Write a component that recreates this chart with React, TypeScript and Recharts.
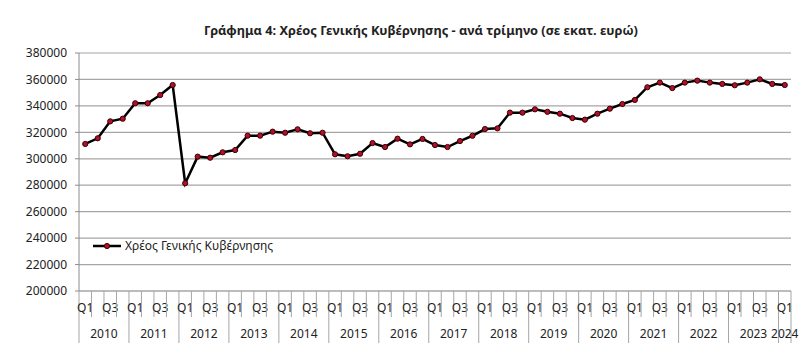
import { LineChart, Line, XAxis, YAxis, CartesianGrid } from 'recharts';

const years = ['2010', '2011', '2012', '2013', '2014', '2015', '2016', '2017', '2018', '2019', '2020', '2021', '2022', '2023', '2024'];
const quarters = ['Q1', 'Q2', 'Q3', 'Q4'];
const shownQuarters = ['Q1', 'Q3'];

const debt = [
  311200, 315500, 328300, 330300,
  342000, 342000, 348200, 355800,
  281500, 301600, 300800, 304900,
  306600, 317500, 317500, 320500,
  319700, 322300, 319300, 319700,
  303400, 301900, 303800, 311900,
  308900, 315200, 310900, 315000,
  310400, 308900, 313400, 317400,
  322500, 323000, 334900, 334900,
  337400, 335500, 334100, 330800,
  329600, 334100, 337900, 341400,
  344500, 354100, 357600, 353500,
  357600, 359100, 357600, 356600,
  355600, 357600, 360100, 356600,
  355800,
];

const yTicks = [200000, 220000, 240000, 260000, 280000, 300000, 320000, 340000, 360000, 380000];

const seriesName = 'Χρέος Γενικής Κυβέρνησης';
const title = 'Γράφημα 4: Χρέος Γενικής Κυβέρνησης - ανά τρίμηνο (σε εκατ. ευρώ)';

const data = years
  .flatMap((y) => quarters.map((q) => ({ year: y, q, period: `${y} ${q}` })))
  .slice(0, debt.length)
  .map((d, i) => ({ ...d, value: debt[i] }));

const W = 808;
const H = 354;
const margin = { top: 53, right: 17, bottom: 0, left: 0 };
const xAxisHeight = 63;
const yAxisWidth = 79;
const band = (W - margin.left - margin.right - yAxisWidth) / data.length;
const font = "'Noto Sans', 'DejaVu Sans', sans-serif";
const axisGray = '#a6a6a6';
const markerFill = '#b0102c';
const markerStroke = '#3a0000';

function QuarterTick(props: any) {
  const { x, y, payload } = props;
  const i = payload.index;
  const d = data[i];
  if (!d) return null;
  const left = x - band / 2;
  const isYearStart = d.q === 'Q1';
  const yearSize = data.filter((p) => p.year === d.year).length;
  const isLast = i === data.length - 1;
  return (
    <g>
      <line x1={left} x2={left} y1={y} y2={isYearStart ? y + 52 : y + 26} stroke={axisGray} />
      {isLast && <line x1={x + band / 2} x2={x + band / 2} y1={y} y2={y + 52} stroke={axisGray} />}
      {shownQuarters.includes(d.q) && (
        <text x={x} y={y + 21} textAnchor="middle" fontSize={12} fill="#222">
          {d.q}
        </text>
      )}
      {isYearStart && (
        <text x={left + (yearSize * band) / 2} y={y + 47} textAnchor="middle" fontSize={12} fill="#222">
          {d.year}
        </text>
      )}
    </g>
  );
}

export default function App() {
  return (
    <div style={{ position: 'absolute', left: 0, top: 0, width: W, height: H, background: '#fff', fontFamily: font }}>
      <div
        style={{
          position: 'absolute',
          top: 21,
          left: 17,
          width: W,
          textAlign: 'center',
          fontWeight: 'bold',
          fontSize: 12.8,
          color: '#222',
        }}
      >
        {title}
      </div>
      <LineChart width={W} height={H} data={data} margin={margin}>
        <CartesianGrid vertical={false} stroke={axisGray} strokeWidth={1.2} />
        <XAxis
          dataKey="period"
          scale="band"
          interval={0}
          tickSize={0}
          tickMargin={0}
          tickLine={false}
          axisLine={{ stroke: axisGray }}
          height={xAxisHeight}
          tick={<QuarterTick />}
        />
        <YAxis
          width={yAxisWidth}
          domain={[200000, 380000]}
          ticks={yTicks}
          interval={0}
          tickSize={4}
          tickMargin={8}
          tickLine={{ stroke: '#8c8c8c' }}
          axisLine={{ stroke: '#8c8c8c' }}
          tick={{ fontSize: 12, fill: '#222' }}
        />
        <Line
          type="linear"
          dataKey="value"
          name={seriesName}
          stroke="#000"
          strokeWidth={2.5}
          dot={{ r: 2.6, fill: markerFill, stroke: markerStroke, strokeWidth: 1 }}
          activeDot={false}
          isAnimationActive={false}
        />
      </LineChart>
      <div
        style={{
          position: 'absolute',
          left: 92,
          top: 237,
          display: 'flex',
          alignItems: 'center',
          fontSize: 12,
          color: '#222',
        }}
      >
        <svg width={30} height={10}>
          <line x1={1} x2={29} y1={5} y2={5} stroke="#000" strokeWidth={2.5} />
          <circle cx={15} cy={5} r={2.6} fill={markerFill} stroke={markerStroke} strokeWidth={1} />
        </svg>
        <span style={{ marginLeft: 3 }}>{seriesName}</span>
      </div>
    </div>
  );
}
